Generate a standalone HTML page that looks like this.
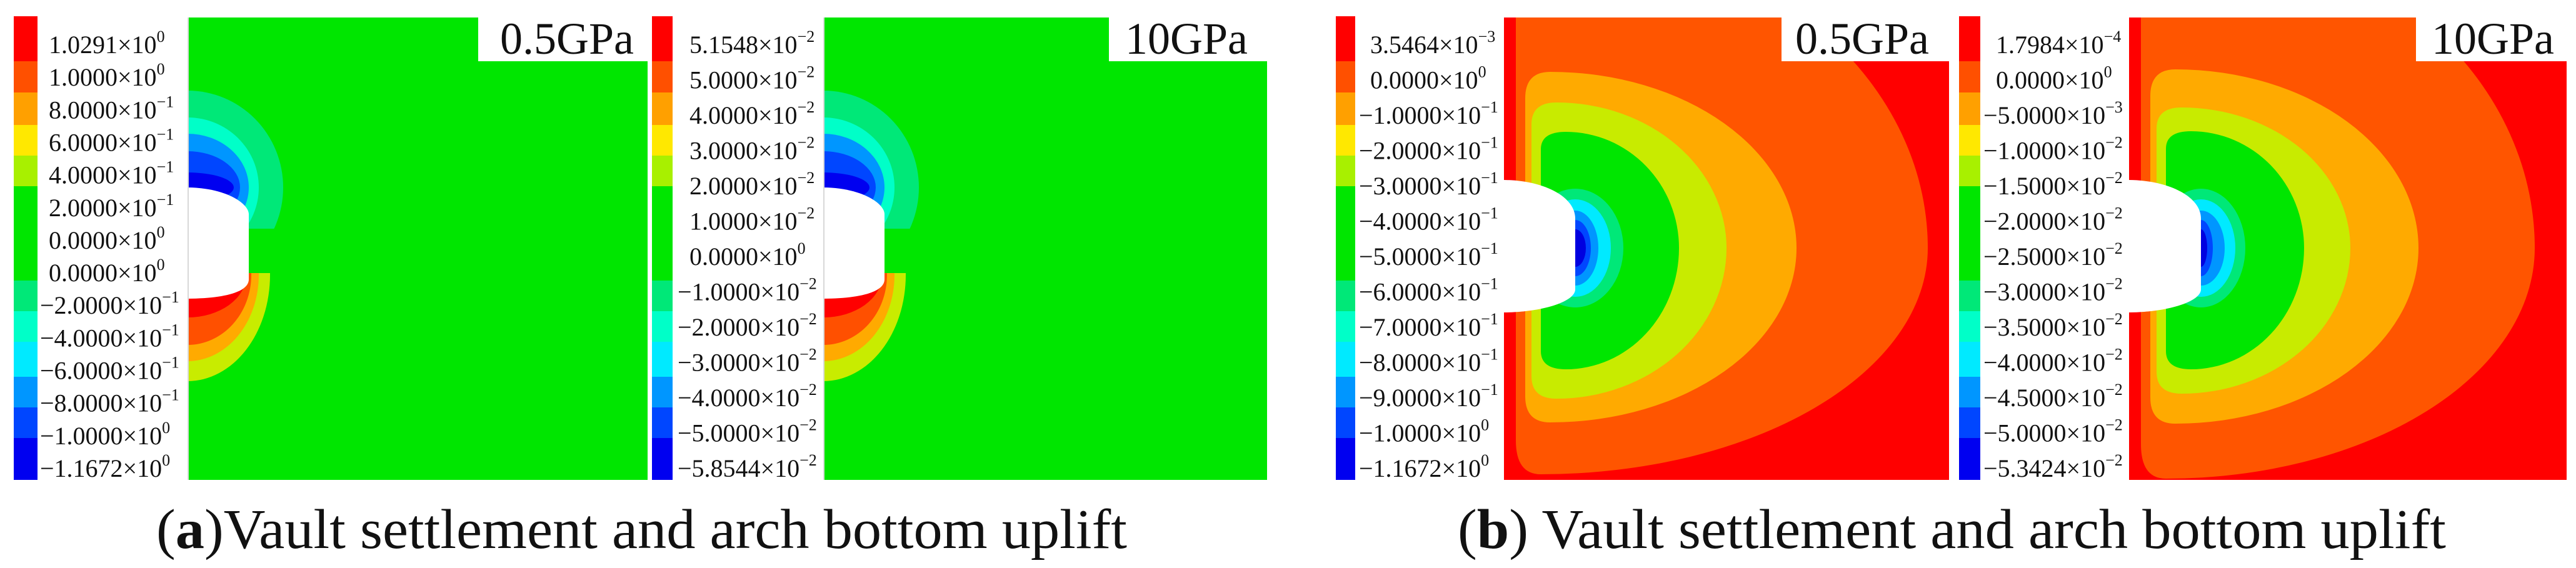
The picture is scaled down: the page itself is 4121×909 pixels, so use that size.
<!DOCTYPE html>
<html><head><meta charset="utf-8">
<style>
html,body{margin:0;padding:0;background:#fff;}
svg{display:block;}
text{font-family:"Liberation Serif","DejaVu Serif",serif;fill:#111;}
</style></head>
<body>
<svg id="fig" width="4121" height="909" viewBox="0 0 4121 909" xmlns="http://www.w3.org/2000/svg">
<defs>
<clipPath id="cp1"><rect x="300" y="28" width="736" height="740"/></clipPath>
<clipPath id="cp2"><rect x="1317" y="28" width="710" height="740"/></clipPath>
<clipPath id="cp3"><rect x="2406" y="28" width="712" height="740"/></clipPath>
<clipPath id="cp4"><rect x="3406" y="28" width="700" height="740"/></clipPath>
</defs>
<g id="root"></g>
</svg>
<script>
// colorbar band colors (top -> bottom)
const bandColors = ['#ff0000','#ff5000','#ffa000','#ffe800','#a8f000','#00e600','#00e878','#00ffc8','#00eaff','#0096ff','#0046ff','#0000f0'];
// band boundaries (shared layout of all colorbars, in px)
const bandEdges = [26,98,148,200,249,298,449,498,547,603,652,701,768];
// colorbar tick labels: mantissa and exponent
const labelsA = ['1.0291','1.0000','8.0000','6.0000','4.0000','2.0000','0.0000','0.0000','−2.0000','−4.0000','−6.0000','−8.0000','−1.0000','−1.1672'];
const expA    = ['0','0','−1','−1','−1','−1','0','0','−1','−1','−1','−1','0','0'];
const labelsB = ['5.1548','5.0000','4.0000','3.0000','2.0000','1.0000','0.0000','−1.0000','−2.0000','−3.0000','−4.0000','−5.0000','−5.8544'];
const expB    = ['−2','−2','−2','−2','−2','−2','0','−2','−2','−2','−2','−2','−2'];
const labelsC = ['3.5464','0.0000','−1.0000','−2.0000','−3.0000','−4.0000','−5.0000','−6.0000','−7.0000','−8.0000','−9.0000','−1.0000','−1.1672'];
const expC    = ['−3','0','−1','−1','−1','−1','−1','−1','−1','−1','−1','0','0'];
const labelsD = ['1.7984','0.0000','−5.0000','−1.0000','−1.5000','−2.0000','−2.5000','−3.0000','−3.5000','−4.0000','−4.5000','−5.0000','−5.3424'];
const expD    = ['−4','0','−3','−2','−2','−2','−2','−2','−2','−2','−2','−2','−2'];
const panelTitles = ['0.5GPa','10GPa','0.5GPa','10GPa'];

const NS='http://www.w3.org/2000/svg';
const root=document.getElementById('root');
function mk(tag,attrs,parent){const e=document.createElementNS(NS,tag);for(const k in attrs)e.setAttribute(k,attrs[k]);(parent||root).appendChild(e);return e;}

function colorbar(x0,x1,labels,exps,lx,lxNeg,name){
  const g=mk('g',{});
  
  
  for(let i=0;i<bandColors.length;i++){
    const r=mk('rect',{x:x0,y:bandEdges[i],width:x1-x0,height:bandEdges[i+1]-bandEdges[i],fill:bandColors[i]},g);
    
    
  }
  const n=labels.length;
  const y0=85, y1=763, step=(y1-y0)/(n-1);
  for(let i=0;i<n;i++){
    const neg=labels[i].startsWith('−');
    const t=mk('text',{x:neg?lxNeg:lx,y:y0+i*step,'font-size':40},g);
    
    
    t.appendChild(document.createTextNode(labels[i]+'×10'));
    const s=mk('tspan',{'font-size':26,dy:-18},t);
    s.textContent=exps[i];
  }
}

function ell(cx,cy,rx,ry,fill,parent){return mk('ellipse',{cx,cy,rx,ry,fill},parent);}
// half-blob: left edge xl, right-half ellipse with separate top / bottom radii
function blob(xl,cx,rx,cy,ryt,ryb,fill,parent){
  const d=`M${xl},${cy} L${xl},${cy-ryt*0.85} Q${xl},${cy-ryt} ${cx},${cy-ryt} A${rx},${ryt} 0 0 1 ${cx+rx},${cy} A${rx},${ryb} 0 0 1 ${cx},${cy+ryb} Q${xl},${cy+ryb} ${xl},${cy+ryb*0.85} Z`;
  return mk('path',{d,fill},parent);
}
function hole(X0,xr,yt,yv1,yv2,yb,parent){
  const d=`M${X0-2},${yt} C${X0+60},${yt} ${xr},${yt+25} ${xr},${yv1} L${xr},${yv2} C${xr},${yv2+20} ${X0+60},${yb} ${X0-2},${yb} Z`;
  const p=mk('path',{d,fill:'#fff'},parent);
  
  
}
function titleBox(bx,bw,tx,txt,parent){
  mk('rect',{x:bx,y:26,width:bw,height:72,fill:'#fff'},parent);
  const t=mk('text',{x:tx,y:86,'font-size':72},parent);
  
  
  t.textContent=txt;
}

// upper / lower contour level radii for panels a (settlement-type)
const upperR = [[153,155],[114,112],[98,86],[84,58],[74,24]];
const upperC = ['#00e878','#00ffc8','#0096ff','#0046ff','#0000f0'];
const lowerR = [[132,170],[114,138],[102,112],[94,68]];
const lowerC = ['#c8ec00','#ffaa00','#ff5000','#ff0000'];

function panelA(X0,W,cp,title,bx,tx,name){
  const g=mk('g',{'clip-path':`url(#${cp})`});
  
  
  mk('rect',{x:X0,y:28,width:W,height:740,fill:'#00e600'},g);
  const gu=mk('g',{},g);
  const cu=mk('clipPath',{id:cp+'u'},gu); mk('rect',{x:X0,y:0,width:W,height:366},cu);
  const gu2=mk('g',{'clip-path':`url(#${cp}u)`},gu);
  for(let i=0;i<upperR.length;i++){const e=ell(X0,300,upperR[i][0],upperR[i][1],upperC[i],gu2);}
  const cl=mk('clipPath',{id:cp+'l'},gu); mk('rect',{x:X0,y:437,width:W,height:400},cl);
  const gl=mk('g',{'clip-path':`url(#${cp}l)`},gu);
  for(let i=0;i<lowerR.length;i++){const e=ell(X0,440,lowerR[i][0],lowerR[i][1],lowerC[i],gl);}
  hole(X0,X0+98,300,343,447,478,g);
  mk('rect',{x:X0,y:28,width:2,height:740,fill:'#d8d8d8'},g);
  titleBox(bx,X0+W-bx,tx,title,g);
}

// panel b levels: [color, left offset, right extent, top, bottom]
const levelColors = ['#ff5500','#ffaa00','#c8eb00','#00e600'];
const levelLeft3  = [2425,2440,2450,2465];
const levelRight3 = [3084,2874,2762,2686];
const levelTop3   = [-110,115,164,211];
const levelBot3   = [759,676,638,591];
const levelLeft4  = [3425,3440,3450,3465];
const levelRight4 = [4055,3869,3760,3686];
const levelTop4   = [-110,111,172,210];
const levelBot4   = [766,678,630,591];
const ringColors = ['#00e878','#00eaff','#0096ff','#0046ff','#0000e0'];
const ringRx3 = [77,57,37,25,17];
const ringRx4 = [71,55,38,19,10];
const ringRy  = [95,78,60,45,30];

function panelB(X0,W,cp,L,R,T,B,rrx,holeR,title,bx,tx,name){
  const g=mk('g',{'clip-path':`url(#${cp})`});
  
  
  mk('rect',{x:X0,y:28,width:W,height:740,fill:'#ff0000'},g);
  const cy=397;
  for(let i=0;i<levelColors.length;i++){
    const cx=L[i]+40;
    const p=blob(L[i],cx,R[i]-cx,cy,cy-T[i],B[i]-cy,levelColors[i],g);
    
    
  }
  for(let i=0;i<ringColors.length;i++){
    const e=ell(holeR,cy,rrx[i],ringRy[i],ringColors[i],g);
    
    
  }
  hole(X0,holeR,288,350,463,500,g);
  titleBox(bx,X0+W-bx,tx,title,g);
}

colorbar(22,60,labelsA,expA,78,64,'colorbar-a-05gpa');
panelA(300,736,'cp1',panelTitles[0],765,800,'contour-a-05gpa');
colorbar(1043,1076,labelsB,expB,1103,1084,'colorbar-a-10gpa');
panelA(1317,710,'cp2',panelTitles[1],1774,1800,'contour-a-10gpa');
colorbar(2137,2168,labelsC,expC,2192,2174,'colorbar-b-05gpa');
panelB(2406,712,'cp3',levelLeft3,levelRight3,levelTop3,levelBot3,ringRx3,2520,panelTitles[2],2850,2872,'contour-b-05gpa');
colorbar(3134,3168,labelsD,expD,3193,3173,'colorbar-b-10gpa');
panelB(3406,700,'cp4',levelLeft4,levelRight4,levelTop4,levelBot4,ringRx4,3521,panelTitles[3],3865,3890,'contour-b-10gpa');

// captions
function caption(x,w,letter,rest,name){
  const t=mk('text',{x,y:877,'font-size':90,textLength:w,lengthAdjust:'spacingAndGlyphs'});
  
  
  t.appendChild(document.createTextNode('('));
  const b=mk('tspan',{'font-weight':'bold'},t); b.textContent=letter;
  t.appendChild(document.createTextNode(rest));
}
caption(250,1553,'a',')Vault settlement and arch bottom uplift','caption-a');
caption(2332,1581,'b',') Vault settlement and arch bottom uplift','caption-b');
</script>
</body></html>
